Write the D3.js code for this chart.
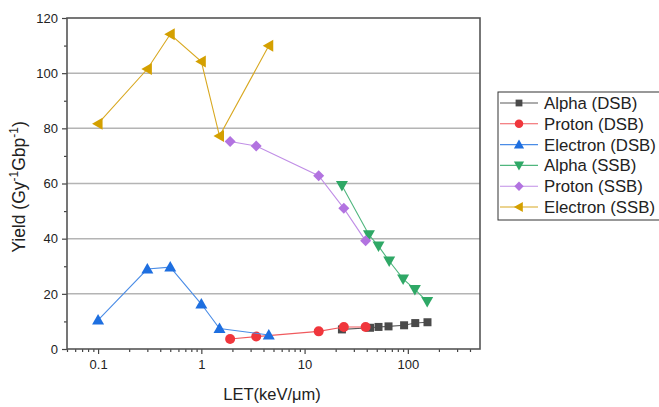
<!DOCTYPE html>
<html>
<head>
<meta charset="utf-8">
<script src="https://cdn.jsdelivr.net/npm/d3@7"></script>
<style>
  body { margin: 0; background: #fff; }
  text { font-family: Arial, "Liberation Sans", sans-serif; fill: #222; }
</style>
</head>
<body>
<svg id="chart" width="659" height="407"></svg>
<script>
// Data
const alphaDSB_x = [23, 43, 52, 65, 92, 118, 155];
const alphaDSB_y = [7.1, 7.7, 8.0, 8.2, 8.6, 9.4, 9.7];
const protonDSB_x = [1.9, 3.4, 13.7, 24, 39];
const protonDSB_y = [3.6, 4.5, 6.4, 8.0, 8.0];
const electronDSB_x = [0.1, 0.3, 0.5, 1, 1.5, 4.5];
const electronDSB_y = [10.5, 29.0, 29.7, 16.3, 7.4, 5.1];
const alphaSSB_x = [23, 42, 52, 66, 90, 117, 154];
const alphaSSB_y = [59.3, 41.4, 37.3, 31.9, 25.4, 21.6, 17.2];
const protonSSB_x = [1.9, 3.4, 13.7, 24, 39];
const protonSSB_y = [75.2, 73.6, 62.8, 51.0, 39.2];
const electronSSB_x = [0.1, 0.3, 0.5, 1, 1.5, 4.5];
const electronSSB_y = [81.7, 101.5, 114.1, 104.2, 77.2, 109.9];

const seriesNames = ["Alpha (DSB)", "Proton (DSB)", "Electron (DSB)", "Alpha (SSB)", "Proton (SSB)", "Electron (SSB)"];
const xTicks = [0.1, 1, 10, 100];
const yTicks = [0, 20, 40, 60, 80, 100, 120];

const series = [
  {name: seriesNames[0], xs: alphaDSB_x, ys: alphaDSB_y, color: "#4a4a4a", line: "#5a5a5a", symbol: "square"},
  {name: seriesNames[1], xs: protonDSB_x, ys: protonDSB_y, color: "#f0363c", line: "#f05a5e", symbol: "circle"},
  {name: seriesNames[2], xs: electronDSB_x, ys: electronDSB_y, color: "#1e6fe0", line: "#4a8ce6", symbol: "up"},
  {name: seriesNames[3], xs: alphaSSB_x, ys: alphaSSB_y, color: "#2fa866", line: "#4fb67e", symbol: "down"},
  {name: seriesNames[4], xs: protonSSB_x, ys: protonSSB_y, color: "#b273e0", line: "#c08ee6", symbol: "diamond"},
  {name: seriesNames[5], xs: electronSSB_x, ys: electronSSB_y, color: "#d4a000", line: "#d8a820", symbol: "left"}
];

const svg = d3.select("#chart");
const margin = {left: 67, right: 179, top: 18, bottom: 58};
const width = 659, height = 407;

const x = d3.scaleLog().domain([0.05, 500]).range([margin.left, width - margin.right]);
const y = d3.scaleLinear().domain([0, 120]).range([height - margin.bottom, margin.top]);

// Grid
svg.append("g")
  .selectAll("line")
  .data(yTicks.filter(d => d > 0 && d < 120))
  .join("line")
  .attr("x1", x.range()[0]).attr("x2", x.range()[1])
  .attr("y1", d => y(d)).attr("y2", d => y(d))
  .attr("stroke", "#b4b4b4").attr("stroke-width", 1.5);

// Minor ticks
const minorX = [];
for (let e = -2; e <= 2; e++) {
  for (let m = 1; m <= 9; m++) {
    const v = m * Math.pow(10, e);
    if (v > 0.05 && v < 500 && m !== 1) minorX.push(v);
  }
}
minorX.push(0.05);
svg.append("g")
  .attr("transform", `translate(0,${y(0)})`)
  .call(d3.axisBottom(x).tickValues(minorX).tickSize(3).tickFormat(""))
  .call(g => g.select(".domain").remove())
  .call(g => g.selectAll("line").attr("stroke", "#444").attr("stroke-width", 1.2));

svg.append("g")
  .attr("transform", `translate(${x.range()[0]},0)`)
  .call(d3.axisLeft(y).tickValues([10, 30, 50, 70, 90, 110]).tickSize(3).tickFormat(""))
  .call(g => g.select(".domain").remove())
  .call(g => g.selectAll("line").attr("stroke", "#444").attr("stroke-width", 1.2));

// Major axes
svg.append("g")
  .attr("transform", `translate(0,${y(0)})`)
  .call(d3.axisBottom(x).tickValues(xTicks).tickSize(5).tickPadding(6).tickFormat(d3.format("~g")))
  .call(g => g.select(".domain").remove())
  .call(g => g.selectAll("line").attr("stroke", "#444").attr("stroke-width", 1.2))
  .call(g => g.selectAll("text").style("font-size", "13px").attr("fill", "#222"));

svg.append("g")
  .attr("transform", `translate(${x.range()[0]},0)`)
  .call(d3.axisLeft(y).tickValues(yTicks).tickSize(5).tickPadding(4))
  .call(g => g.select(".domain").remove())
  .call(g => g.selectAll("line").attr("stroke", "#444").attr("stroke-width", 1.2))
  .call(g => g.selectAll("text").style("font-size", "13px").attr("fill", "#222"));

// Frame
svg.append("rect")
  .attr("x", x.range()[0]).attr("y", y(120))
  .attr("width", x.range()[1] - x.range()[0])
  .attr("height", y(0) - y(120))
  .attr("fill", "none").attr("stroke", "#555").attr("stroke-width", 1.6);

// Markers
function marker(sel, symbol, color) {
  if (symbol === "square") {
    sel.append("rect").attr("x", -4).attr("y", -4).attr("width", 8).attr("height", 8).attr("fill", color);
  } else if (symbol === "circle") {
    sel.append("circle").attr("r", 5).attr("fill", color);
  } else if (symbol === "up") {
    sel.append("path").attr("d", "M0,-6L6,4.5L-6,4.5Z").attr("fill", color);
  } else if (symbol === "down") {
    sel.append("path").attr("d", "M0,6L6,-4.5L-6,-4.5Z").attr("fill", color);
  } else if (symbol === "left") {
    sel.append("path").attr("d", "M-6,0L4.5,-6L4.5,6Z").attr("fill", color);
  } else if (symbol === "diamond") {
    sel.append("path").attr("d", "M0,-5.5L5.5,0L0,5.5L-5.5,0Z").attr("fill", color);
  }
}

const line = d3.line().x(d => x(d[0])).y(d => y(d[1]));

series.forEach(s => {
  const pts = s.xs.map((v, i) => [v, s.ys[i]]);
  svg.append("path")
    .datum(pts)
    .attr("d", line)
    .attr("fill", "none")
    .attr("stroke", s.line)
    .attr("stroke-width", 1.1);
  svg.append("g")
    .selectAll("g")
    .data(pts)
    .join("g")
    .attr("transform", d => `translate(${x(d[0])},${y(d[1])})`)
    .each(function () { marker(d3.select(this), s.symbol, s.color); });
});

// Axis titles
svg.append("text")
  .attr("x", 272).attr("y", 400)
  .attr("text-anchor", "middle")
  .style("font-size", "16.5px")
  .text("LET(keV/\u03bcm)");

const yl = svg.append("text")
  .attr("transform", `translate(25,187) rotate(-90)`)
  .attr("text-anchor", "middle")
  .style("font-size", "17.5px");
yl.append("tspan").text("Yield (Gy");
yl.append("tspan").attr("dy", -7).style("font-size", "12px").text("-1");
yl.append("tspan").attr("dy", 7).text("Gbp");
yl.append("tspan").attr("dy", -7).style("font-size", "12px").text("-1");
yl.append("tspan").attr("dy", 7).text(")");

// Legend
const legend = svg.append("g").attr("transform", "translate(498,92)");
legend.append("rect")
  .attr("width", 170).attr("height", 128)
  .attr("fill", "#fff").attr("stroke", "#333").attr("stroke-width", 1);
series.forEach((s, i) => {
  const g = legend.append("g").attr("transform", `translate(0,${11 + i * 20.8})`);
  g.append("line").attr("x1", 2).attr("x2", 40).attr("stroke", s.line).attr("stroke-width", 1.1);
  const m = g.append("g").attr("transform", "translate(21,0) scale(0.85)");
  marker(m, s.symbol, s.color);
  g.append("text").attr("x", 46).attr("y", 6).style("font-size", "16.8px").text(s.name);
});
</script>
</body>
</html>
